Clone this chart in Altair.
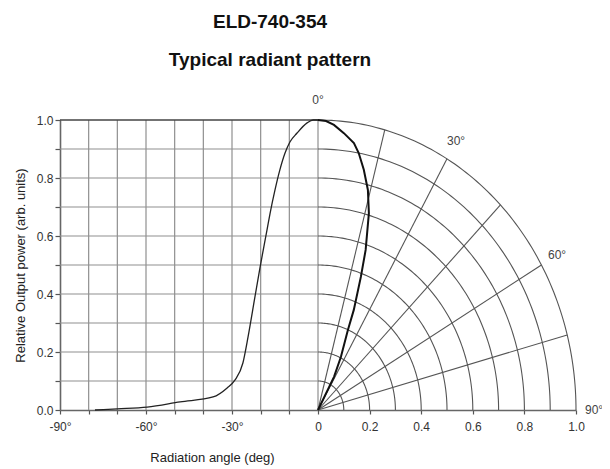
import math
import altair as alt
import pandas as pd

# ---- data ----
# Left (Cartesian) half: radiation angle (deg) vs relative output power
cart_angle = [-77.8, -70.0, -59.6, -48.1, -36.6, -31.7, -29.0, -26.2, -24.4, -22.0,
              -20.2, -17.8, -16.7, -15.0, -13.3, -11.5, -9.8, -7.3, -3.8, -1.7, 0.0]
cart_power = [0.0, 0.004, 0.010, 0.028, 0.045, 0.076, 0.103, 0.162, 0.252, 0.390,
              0.493, 0.620, 0.679, 0.759, 0.828, 0.886, 0.924, 0.955, 0.990, 1.0, 1.0]

# Right (polar) half: angle from axis (deg) vs relative output power (radius)
polar_angle = [0.0, 1.8, 3.6, 6.0, 8.6, 10.1, 12.1, 14.3, 16.2, 18.5, 19.9, 21.9,
               22.8, 25.9, 28.5, 30.0]
polar_power = [1.0, 0.997, 0.985, 0.960, 0.931, 0.900, 0.847, 0.783, 0.707, 0.582,
               0.488, 0.372, 0.299, 0.203, 0.130, 0.0]

# grid definitions
grid_deg = [-80, -70, -60, -50, -40, -30, -20, -10, 0]
grid_pow = [0.1, 0.2, 0.3, 0.4, 0.5, 0.6, 0.7, 0.8, 0.9]
ring_radii = [0.1, 0.2, 0.3, 0.4, 0.5, 0.6, 0.7, 0.8, 0.9, 1.0]
spoke_deg = [15, 30, 45, 60, 75]
angle_label_text = ["0°", "30°", "60°", "90°"]
angle_label_deg = [0, 30, 60, 90]

x_tick_values = [-1 + k / 9 for k in range(10)] + [0.2, 0.4, 0.6, 0.8, 1.0]
y_tick_values = [k / 10 for k in range(11)]

# ---- tables ----
cart_df = pd.DataFrame({"deg": cart_angle, "Y": cart_power, "i": range(len(cart_angle))})
polar_df = pd.DataFrame({"deg": polar_angle, "r": polar_power, "i": range(len(polar_angle))})
vgrid_df = pd.DataFrame({"deg": grid_deg})
hgrid_df = pd.DataFrame({"Y": grid_pow})
spoke_df = pd.DataFrame({"deg": spoke_deg})
lab_df = pd.DataFrame({"label": angle_label_text, "deg": angle_label_deg})
top_df = pd.DataFrame({"Y": [1.0]})

ring_rows = []
for r in ring_radii:
    for t in range(0, 91):
        a = math.radians(t)
        ring_rows.append({"ring": r, "t": t, "X": r * math.sin(a), "Y": r * math.cos(a)})
ring_df = pd.DataFrame(ring_rows)

# ---- scales / axes ----
xs = alt.Scale(domain=[-1, 1], nice=False, zero=False)
ys = alt.Scale(domain=[0, 1], nice=False, zero=False)

x_label_expr = (
    "datum.value < -0.001 ? (round(datum.value*90) % 30 == 0 ? round(datum.value*90) + '°' : '') : "
    "(abs(datum.value) < 0.001 ? '0' : format(datum.value, '.1f'))"
)
y_label_expr = "round(datum.value*10) % 2 == 0 ? format(datum.value, '.1f') : ''"

x_axis = alt.Axis(values=x_tick_values, labelExpr=x_label_expr, title="Radiation angle (deg)",
                  titleX=152, titleY=47, titleAlign="center", titleBaseline="middle",
                  labelPadding=7, tickSize=4, grid=False, labelFlush=False, labelOverlap=False)
y_axis = alt.Axis(values=y_tick_values, labelExpr=y_label_expr,
                  title="Relative Output power (arb. units)",
                  titleX=-40, titleY=145, titleAngle=270, titleAlign="center", titleBaseline="middle",
                  labelPadding=2, tickSize=5, grid=False, labelFlush=False, labelOverlap=False)

X = lambda f="X": alt.X(f"{f}:Q", scale=xs, axis=x_axis)
Y = lambda f="Y": alt.Y(f"{f}:Q", scale=ys, axis=y_axis)

grid_col = "#8f8f8f"
polar_col = "#555555"

vgrid = alt.Chart(vgrid_df).mark_rule(color=grid_col, strokeWidth=1.2).transform_calculate(
    X="datum.deg/90", Y0="0", Y1="1"
).encode(x=X(), y=Y("Y0"), y2="Y1:Q")

hgrid = alt.Chart(hgrid_df).mark_rule(color=grid_col, strokeWidth=1.2).transform_calculate(
    X0="-1", X1="0"
).encode(y=Y(), x=X("X0"), x2="X1:Q")

topline = alt.Chart(top_df).mark_rule(color="#444", strokeWidth=1.5).transform_calculate(
    X0="-1", X1="0"
).encode(y=Y(), x=X("X0"), x2="X1:Q")

rings = alt.Chart(ring_df).mark_line(color=polar_col, strokeWidth=1.1).encode(
    x=X(), y=Y(), detail="ring:N", order="t:Q"
)

spokes = alt.Chart(spoke_df).mark_rule(color=polar_col, strokeWidth=1.1).transform_calculate(
    X0="0", Y0="0", X1="sin(datum.deg*PI/180)", Y1="cos(datum.deg*PI/180)"
).encode(x=X("X0"), y=Y("Y0"), x2="X1:Q", y2="Y1:Q")

cart_line = alt.Chart(cart_df).mark_line(
    color="#222", strokeWidth=1.3, interpolate="monotone"
).transform_calculate(
    X="datum.deg/90"
).encode(x=X(), y=Y(), order="i:Q")

polar_line = alt.Chart(polar_df).mark_line(color="#111", strokeWidth=2).transform_calculate(
    X="datum.r*sin(datum.deg*PI/180)", Y="datum.r*cos(datum.deg*PI/180)"
).encode(x=X(), y=Y(), order="i:Q")

labels = alt.Chart(lab_df).mark_text(
    font="Liberation Sans", fontSize=12, color="#444", align="center", baseline="middle"
).transform_calculate(
    X="1.07*sin(datum.deg*PI/180)", Y="1.07*cos(datum.deg*PI/180)"
).encode(x=X(), y=Y(), text="label:N")

chart = alt.layer(vgrid, hgrid, topline, rings, spokes, cart_line, polar_line, labels).properties(
    width=516, height=290,
    autosize=alt.AutoSizeParams(type="none"),
    padding={"left": 52, "top": 112, "right": 26, "bottom": 58},
    title=alt.TitleParams(
        ["ELD-740-354", "Typical radiant pattern"],
        font="Liberation Sans",
        fontSize=19, fontWeight="bold", color="#111", lineHeight=38,
        anchor="middle", dx=-48, offset=24,
    ),
).configure_view(stroke=None).configure_axis(
    labelFont="Liberation Sans", labelFontSize=12, labelColor="#333",
    titleFont="Liberation Sans", titleFontSize=13, titleFontWeight="normal", titleColor="#222",
    tickColor="#555", domainColor="#666", domainWidth=1.6, tickWidth=1.2,
)

chart.save("out.html", embed_options={"renderer": "svg", "actions": False})
